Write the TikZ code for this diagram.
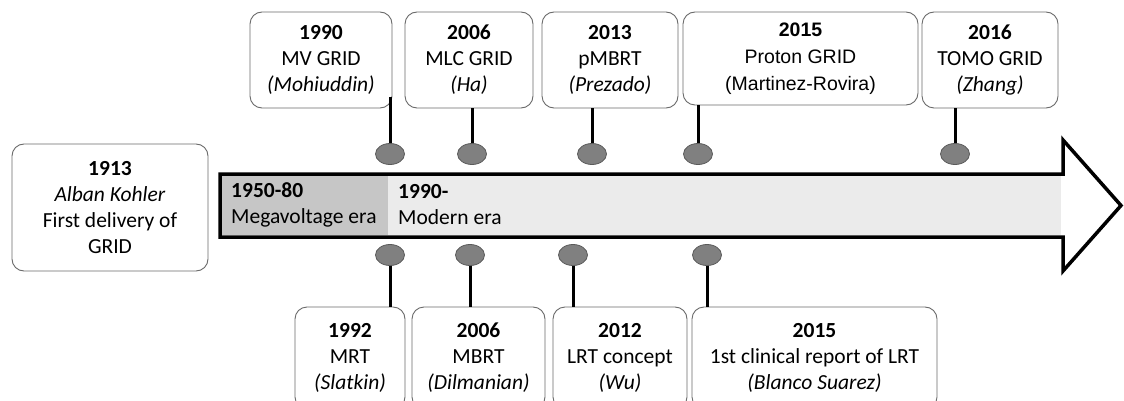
\documentclass[tikz,border=0pt]{standalone}
\usepackage{fontspec}
\setmainfont{Carlito}
\newfontfamily\arialfont{Liberation Sans}
\usepackage{tikz}
\usetikzlibrary{shapes.geometric, arrows}
\definecolor{boxline}{HTML}{6A6A6A}
\definecolor{dotfill}{HTML}{808080}
\definecolor{dotline}{HTML}{5A5A5A}
\definecolor{oldera}{HTML}{C6C6C6}
\definecolor{newera}{HTML}{EBEBEB}
\tikzstyle{event} = [rectangle, rounded corners=12pt, minimum height=96pt, inner sep=0pt, text centered, align=center, draw=boxline, line width=0.9pt, fill=white, font=\fontsize{21.5}{26}\selectfont]
\tikzstyle{dot} = [ellipse, minimum width=29pt, minimum height=21pt, inner sep=0pt, draw=dotline, line width=0.8pt, fill=dotfill]
\tikzstyle{stem} = [line width=3pt, black]
\tikzstyle{era} = [anchor=west, align=left, inner sep=0pt, font=\fontsize{21.5}{26}\selectfont]

\begin{document}
\begin{tikzpicture}[x=1pt, y=-1pt]
		\useasboundingbox (0,0) rectangle (1124,401);
		\clip (0,0) rectangle (1124,401);

		\filldraw [line width=3.5pt, fill=white, line join=miter] (220,174) -- (1063,174) -- (1063,140) -- (1121,205.5) -- (1063,271) -- (1063,237) -- (220,237) -- cycle;
		\fill [oldera] (222,176) rectangle (388,235);
		\fill [newera] (388,176) rectangle (1061,235);
		\node (era1) [era] at (231,205) {\textbf{1950-80}\\Megavoltage era};
		\node (era2) [era] at (398,205) {\textbf{1990-}\\Modern era};

		\node (start) [event, minimum width=196pt, minimum height=127pt] at (110,207.5) {\textbf{1913}\\\textit{Alban Kohler}\\First delivery of\\GRID};

		\node (top1) [event, minimum width=142pt] at (321,60) {\textbf{1990}\\MV GRID\\\textit{(Mohiuddin)}};
		\node (top2) [event, minimum width=128pt] at (469,60) {\textbf{2006}\\MLC GRID\\\textit{(Ha)}};
		\node (top3) [event, minimum width=136pt] at (610,60) {\textbf{2013}\\pMBRT\\\textit{(Prezado)}};
		\node (top4) [event, minimum width=235pt, minimum height=93pt, font=\arialfont\fontsize{19.5}{27}\selectfont] at (800.5,58.5) {\textbf{2015}\\Proton GRID\\(Martinez-Rovira)};
		\node (top5) [event, minimum width=136pt] at (990,60) {\textbf{2016}\\TOMO GRID\\\textit{(Zhang)}};

		\node (bot1) [event, minimum width=110pt, minimum height=102pt] at (350,358) {\textbf{1992}\\MRT\\\textit{(Slatkin)}};
		\node (bot2) [event, minimum width=133pt, minimum height=102pt] at (478.5,358) {\textbf{2006}\\MBRT\\\textit{(Dilmanian)}};
		\node (bot3) [event, minimum width=134pt, minimum height=102pt] at (620,358) {\textbf{2012}\\LRT concept\\\textit{(Wu)}};
		\node (bot4) [event, minimum width=245pt, minimum height=102pt] at (814.5,358) {\textbf{2015}\\1st clinical report of LRT\\\textit{(Blanco Suarez)}};

		\node (dot1) [dot] at (390,154) {};
		\node (dot2) [dot] at (472,154) {};
		\node (dot3) [dot] at (592,154) {};
		\node (dot4) [dot] at (698,154) {};
		\node (dot5) [dot] at (955,154) {};
		\node (dot6) [dot] at (390,255) {};
		\node (dot7) [dot] at (470,255) {};
		\node (dot8) [dot] at (573,255) {};
		\node (dot9) [dot] at (707,255) {};

		\draw [stem] (dot1.north) -- ([yshift=11pt]dot1 |- top1.south);
		\draw [stem] (dot2.north) -- (dot2 |- top2.south);
		\draw [stem] (dot3.north) -- (dot3 |- top3.south);
		\draw [stem] (dot4.north) -- (dot4 |- top4.south);
		\draw [stem] (dot5.north) -- (dot5 |- top5.south);
		\draw [stem] (dot6.south) -- (dot6 |- bot1.north);
		\draw [stem] (dot7.south) -- (dot7 |- bot2.north);
		\draw [stem] (dot8.south) -- (dot8 |- bot3.north);
		\draw [stem] (dot9.south) -- (dot9 |- bot4.north);
		\end{tikzpicture}
\end{document}
